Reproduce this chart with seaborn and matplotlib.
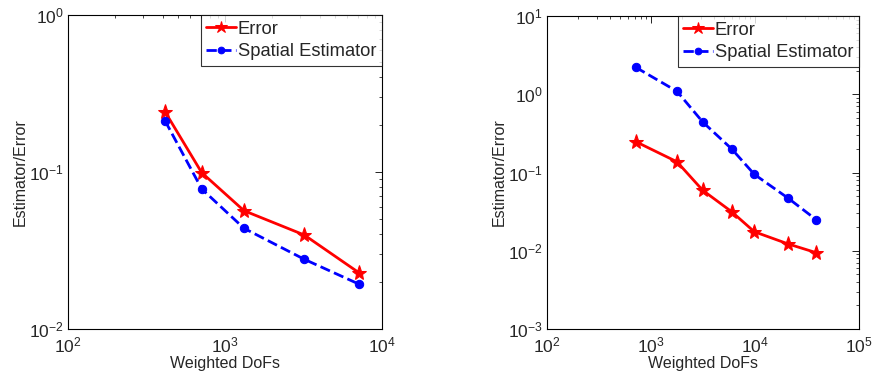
import numpy as np
import pandas as pd
import matplotlib
matplotlib.use("Agg")
import matplotlib.pyplot as plt
import seaborn as sns
from matplotlib.ticker import LogLocator, NullFormatter

sns.set_style("white")
plt.rcParams['font.family'] = ['Liberation Sans', 'DejaVu Sans']
plt.rcParams['mathtext.fontset'] = 'custom'
plt.rcParams['mathtext.rm'] = 'Liberation Sans'
plt.rcParams['mathtext.default'] = 'regular'

# Left panel
left_dofs = [415, 711, 1321, 3199, 7144]
left_error = [0.242, 0.099, 0.0567, 0.0397, 0.0228]
left_estimator = [0.212, 0.078, 0.0438, 0.0278, 0.0193]

# Right panel
right_dofs = [713, 1778, 3143, 5970, 9845, 20900, 38850]
right_error = [0.248, 0.137, 0.0592, 0.0315, 0.0175, 0.0122, 0.00944]
right_estimator = [2.21, 1.09, 0.442, 0.200, 0.0948, 0.0468, 0.0249]

fig = plt.figure(figsize=(8.73, 3.8), dpi=100)
ax1 = fig.add_axes([68/873, 1 - 329/380, 314/873, 314/380])
ax2 = fig.add_axes([547/873, 1 - 329/380, 312/873, 313/380])


def draw(ax, dofs, err, est, xlim, ylim):
    df_err = pd.DataFrame({"dofs": dofs, "val": err})
    df_est = pd.DataFrame({"dofs": dofs, "val": est})
    sns.lineplot(data=df_err, x="dofs", y="val", ax=ax, color="#ff0000",
                 marker="*", markersize=11, markeredgecolor="#ff0000",
                 linewidth=2, label="Error", sort=False)
    sns.lineplot(data=df_est, x="dofs", y="val", ax=ax, color="#0000ff",
                 marker="o", markersize=6, markeredgecolor="#0000ff",
                 linewidth=2, linestyle="--", dashes=(2.5, 2.2),
                 label="Spatial Estimator", sort=False)
    ax.set_xscale("log")
    ax.set_yscale("log")
    ax.set_xlim(*xlim)
    ax.set_ylim(*ylim)
    ax.set_xlabel("Weighted DoFs", fontsize=11.5, labelpad=0)
    ax.set_ylabel("Estimator/Error", fontsize=11.5, labelpad=1)
    for a in (ax.xaxis, ax.yaxis):
        a.set_major_locator(LogLocator(base=10, numticks=10))
        a.set_minor_locator(LogLocator(base=10, subs=np.arange(2, 10), numticks=20))
        a.set_minor_formatter(NullFormatter())
    ax.tick_params(which="both", direction="in", top=True, right=True,
                   labelsize=12.5, color="black")
    ax.tick_params(axis="x", which="major", pad=5)
    ax.tick_params(axis="y", which="major", pad=3)
    ax.tick_params(which="major", length=5, width=0.6)
    ax.tick_params(which="minor", length=2.5, width=0.5)
    for s in ax.spines.values():
        s.set_color("black")
        s.set_linewidth(0.8)
    leg = ax.legend(loc="upper right", fontsize=13.2, frameon=True,
                    fancybox=False, borderpad=0.32, labelspacing=0.3,
                    handlelength=1.6, handletextpad=0.1, borderaxespad=0.0,
                    markerscale=0.8)
    leg.get_frame().set_edgecolor("black")
    leg.get_frame().set_linewidth(0.8)


draw(ax1, left_dofs, left_error, left_estimator, (1e2, 1e4), (1e-2, 1e0))
draw(ax2, right_dofs, right_error, right_estimator, (1e2, 1e5), (1e-3, 1e1))

fig.savefig("out.png", dpi=100)
